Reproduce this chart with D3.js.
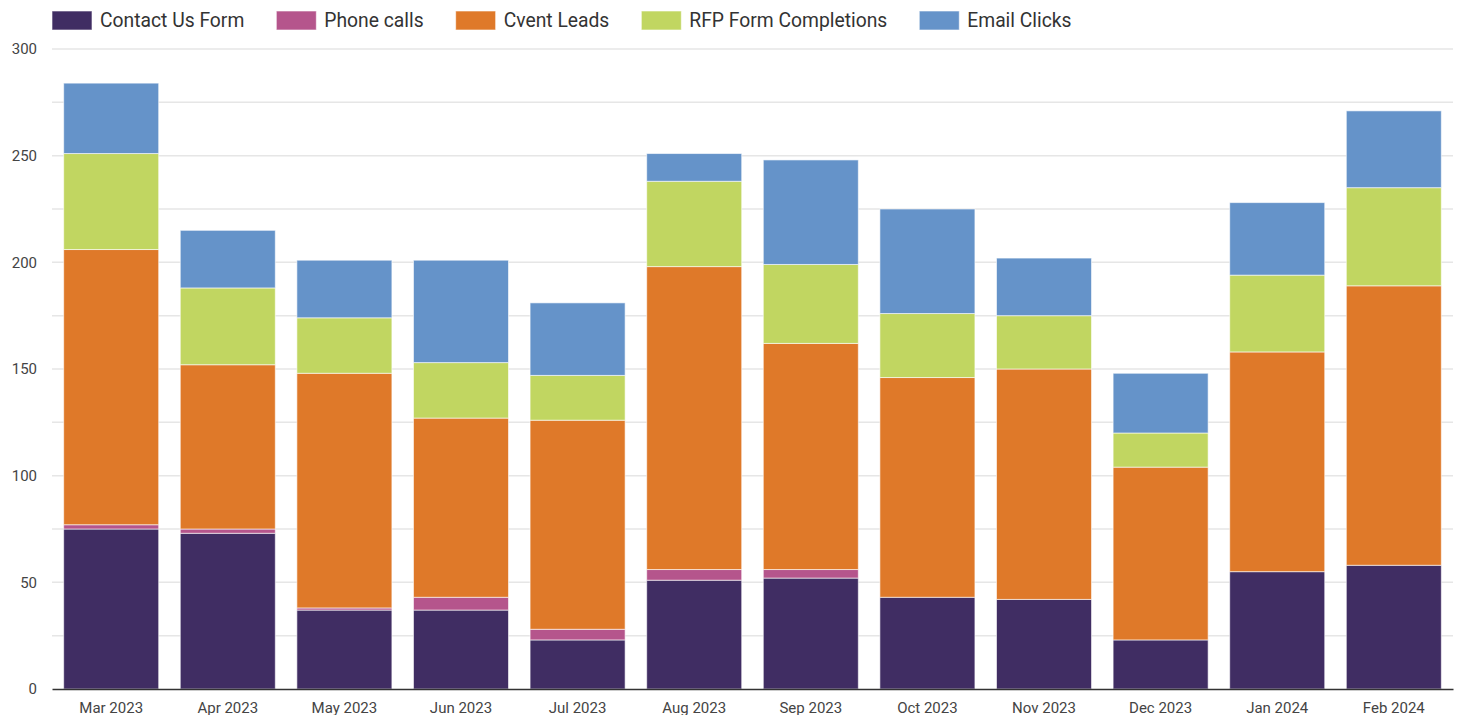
<!DOCTYPE html>
<html>
<head>
<meta charset="utf-8">
<script src="https://cdn.jsdelivr.net/npm/d3@7"></script>
<style>
  body { margin: 0; background: #fff; }
  svg { display: block; font-family: Roboto, "Open Sans", sans-serif; }
</style>
</head>
<body>
<svg width="1457" height="715"></svg>
<script>
var MONTHS = ["Mar 2023", "Apr 2023", "May 2023", "Jun 2023", "Jul 2023", "Aug 2023",
  "Sep 2023", "Oct 2023", "Nov 2023", "Dec 2023", "Jan 2024", "Feb 2024"];
var SERIES = ["Contact Us Form", "Phone calls", "Cvent Leads", "RFP Form Completions", "Email Clicks"];
var COLORS = ["#402d63", "#b5558c", "#df7929", "#c1d661", "#6593c9"];

var CONTACT = [75, 73, 37, 37, 23, 51, 52, 43, 42, 23, 55, 58];
var PHONE   = [2, 2, 1, 6, 5, 5, 4, 0, 0, 0, 0, 0];
var CVENT   = [129, 77, 110, 84, 98, 142, 106, 103, 108, 81, 103, 131];
var RFP     = [45, 36, 26, 26, 21, 40, 37, 30, 25, 16, 36, 46];
var EMAIL   = [33, 27, 27, 48, 34, 13, 49, 49, 27, 28, 34, 36];
var Y_TICKS = [0, 50, 100, 150, 200, 250, 300];

var rows = MONTHS.map(function (m, i) {
  return {
    month: m,
    "Contact Us Form": CONTACT[i],
    "Phone calls": PHONE[i],
    "Cvent Leads": CVENT[i],
    "RFP Form Completions": RFP[i],
    "Email Clicks": EMAIL[i]
  };
});

var svg = d3.select("svg"),
  margin = { top: 49, right: 4, bottom: 26, left: 52 },
  width = svg.attr("width") - margin.left - margin.right,
  height = svg.attr("height") - margin.top - margin.bottom;

var g = svg.append("g")
  .attr("transform", "translate(" + margin.left + "," + margin.top + ")");

var xScale = d3.scaleBand().domain(MONTHS).range([0, width]).paddingInner(0.185).paddingOuter(0.1);
var yScale = d3.scaleLinear().domain([0, 300]).range([height, 0]);
var color = d3.scaleOrdinal().domain(SERIES).range(COLORS);

// gridlines every 25
g.append("g")
  .selectAll("line")
  .data(d3.range(25, 301, 25))
  .enter()
  .append("line")
  .attr("x1", 0)
  .attr("x2", width)
  .attr("y1", function (d) { return yScale(d); })
  .attr("y2", function (d) { return yScale(d); })
  .style("stroke", "#e6e6e6")
  .style("stroke-width", 1.5);

// y axis labels
var yAxis = d3.axisLeft(yScale).tickValues(Y_TICKS).tickSize(0).tickPadding(15);
var yg = g.append("g").call(yAxis);
yg.select(".domain").remove();
yg.selectAll("text").style("font-size", "15px").style("fill", "#444").style("font-family", "Roboto");

// stacked bars
var stack = d3.stack().keys(SERIES)(rows);

g.append("g")
  .selectAll("g")
  .data(stack)
  .enter()
  .append("g")
  .attr("fill", function (d) { return color(d.key); })
  .selectAll("rect")
  .data(function (d) { return d; })
  .enter()
  .append("rect")
  .attr("x", function (d) { return xScale(d.data.month); })
  .attr("y", function (d) { return yScale(d[1]); })
  .attr("width", xScale.bandwidth())
  .attr("height", function (d) { return yScale(d[0]) - yScale(d[1]); })
  .style("stroke", "rgba(255,255,255,0.6)")
  .style("stroke-width", 1);

// x axis
var xAxis = d3.axisBottom(xScale).tickSize(0).tickPadding(13);
var xg = g.append("g")
  .attr("transform", "translate(0," + height + ")")
  .call(xAxis);
xg.select(".domain").style("stroke", "#333").style("stroke-width", 1.5);
xg.selectAll("text").style("font-size", "15px").style("fill", "#444").style("font-family", "Roboto");

// legend
var legend = svg.append("g").attr("transform", "translate(52,11)");
var lx = 0;
SERIES.forEach(function (s, i) {
  var item = legend.append("g").attr("transform", "translate(" + lx + ",0)");
  item.append("rect")
    .attr("width", 40)
    .attr("height", 19)
    .attr("fill", COLORS[i])
    .style("stroke", "rgba(255,255,255,0.6)");
  var t = item.append("text")
    .attr("x", 48)
    .attr("y", 16)
    .style("font-size", "19.3px")
    .style("fill", "#333")
    .text(s);
  lx += 48 + t.node().getComputedTextLength() + 32;
});
</script>
</body>
</html>
